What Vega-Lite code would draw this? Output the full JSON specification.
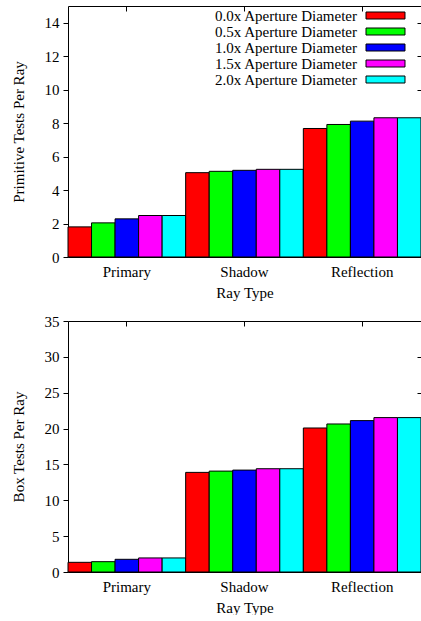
{
  "$schema": "https://vega.github.io/schema/vega-lite/v6.json",
  "padding": {"left": 11, "top": 5, "right": 0, "bottom": 0},
  "spacing": 14,
  "background": "white",
  "config": {
    "font": "Liberation Serif",
    "view": {"stroke": null},
    "axis": {"labelFont": "Liberation Serif", "titleFont": "Liberation Serif", "labelFontSize": 15, "titleFontSize": 15, "titleFontWeight": "normal", "labelColor": "black", "titleColor": "black", "domainColor": "black", "tickColor": "black", "grid": false},
    "legend": {"labelFont": "Liberation Serif", "labelFontSize": 15, "labelColor": "black"}
  },
  "datasets": {
    "prim": [
      {"ray": "Primary", "series": "0.0x Aperture Diameter", "value": 1.8},
      {"ray": "Primary", "series": "0.5x Aperture Diameter", "value": 2.04},
      {"ray": "Primary", "series": "1.0x Aperture Diameter", "value": 2.28},
      {"ray": "Primary", "series": "1.5x Aperture Diameter", "value": 2.48},
      {"ray": "Primary", "series": "2.0x Aperture Diameter", "value": 2.48},
      {"ray": "Shadow", "series": "0.0x Aperture Diameter", "value": 5.04},
      {"ray": "Shadow", "series": "0.5x Aperture Diameter", "value": 5.12},
      {"ray": "Shadow", "series": "1.0x Aperture Diameter", "value": 5.18},
      {"ray": "Shadow", "series": "1.5x Aperture Diameter", "value": 5.24},
      {"ray": "Shadow", "series": "2.0x Aperture Diameter", "value": 5.24},
      {"ray": "Reflection", "series": "0.0x Aperture Diameter", "value": 7.68},
      {"ray": "Reflection", "series": "0.5x Aperture Diameter", "value": 7.92},
      {"ray": "Reflection", "series": "1.0x Aperture Diameter", "value": 8.12},
      {"ray": "Reflection", "series": "1.5x Aperture Diameter", "value": 8.32},
      {"ray": "Reflection", "series": "2.0x Aperture Diameter", "value": 8.32}
    ],
    "box": [
      {"ray": "Primary", "series": "0.0x Aperture Diameter", "value": 1.35},
      {"ray": "Primary", "series": "0.5x Aperture Diameter", "value": 1.44},
      {"ray": "Primary", "series": "1.0x Aperture Diameter", "value": 1.77},
      {"ray": "Primary", "series": "1.5x Aperture Diameter", "value": 1.96},
      {"ray": "Primary", "series": "2.0x Aperture Diameter", "value": 1.96},
      {"ray": "Shadow", "series": "0.0x Aperture Diameter", "value": 13.89},
      {"ray": "Shadow", "series": "0.5x Aperture Diameter", "value": 14.07},
      {"ray": "Shadow", "series": "1.0x Aperture Diameter", "value": 14.21},
      {"ray": "Shadow", "series": "1.5x Aperture Diameter", "value": 14.4},
      {"ray": "Shadow", "series": "2.0x Aperture Diameter", "value": 14.4},
      {"ray": "Reflection", "series": "0.0x Aperture Diameter", "value": 20.08},
      {"ray": "Reflection", "series": "0.5x Aperture Diameter", "value": 20.64},
      {"ray": "Reflection", "series": "1.0x Aperture Diameter", "value": 21.11},
      {"ray": "Reflection", "series": "1.5x Aperture Diameter", "value": 21.53},
      {"ray": "Reflection", "series": "2.0x Aperture Diameter", "value": 21.53}
    ]
  },
  "vconcat": [
    {
      "width": 353,
      "height": 251,
      "data": {"name": "prim"},
      "layer": [
        {
          "mark": {"type": "bar", "stroke": "black", "strokeWidth": 1},
          "encoding": {
            "x": {"field": "ray", "type": "nominal", "sort": ["Primary", "Shadow", "Reflection"], "scale": {"paddingInner": 0, "paddingOuter": 0},
                  "axis": {"orient": "bottom", "title": "Ray Type", "labelAngle": 0, "ticks": false, "labelPadding": 7, "titlePadding": 6, "domain": true}},
            "xOffset": {"field": "series", "type": "nominal", "sort": ["0.0x Aperture Diameter", "0.5x Aperture Diameter", "1.0x Aperture Diameter", "1.5x Aperture Diameter", "2.0x Aperture Diameter"], "scale": {"paddingInner": 0, "paddingOuter": 0}},
            "y": {"field": "value", "type": "quantitative", "scale": {"domain": [0, 15], "nice": false},
                  "axis": {"orient": "left", "title": "Primitive Tests Per Ray", "values": [0, 2, 4, 6, 8, 10, 12, 14], "tickSize": 5, "labelPadding": 4, "titlePadding": 18, "domain": true}},
            "color": {"field": "series", "type": "nominal",
                      "scale": {"domain": ["0.0x Aperture Diameter", "0.5x Aperture Diameter", "1.0x Aperture Diameter", "1.5x Aperture Diameter", "2.0x Aperture Diameter"], "range": ["#ff0000", "#00ff00", "#0000ff", "#ff00ff", "#00ffff"]},
                      "legend": {"title": null, "orient": "none", "legendX": 310, "legendY": 2, "symbolType": "M-5.571,-1H5.571V1H-5.571Z", "symbolSize": 49, "symbolStrokeColor": "black", "symbolStrokeWidth": 1, "symbolOpacity": 1, "labelAlign": "right", "labelOffset": -36, "rowPadding": 0, "padding": 0, "labelLimit": 300}}
          }
        },
        {
          "mark": {"type": "bar", "opacity": 0},
          "encoding": {
            "x": {"field": "ray", "type": "nominal", "sort": ["Primary", "Shadow", "Reflection"], "axis": {"orient": "top", "title": null, "labels": false, "ticks": true, "tickSize": -5, "domain": true}},
            "xOffset": {"field": "series", "type": "nominal", "sort": ["0.0x Aperture Diameter", "0.5x Aperture Diameter", "1.0x Aperture Diameter", "1.5x Aperture Diameter", "2.0x Aperture Diameter"]},
            "y": {"field": "value", "type": "quantitative", "axis": {"orient": "right", "title": null, "labels": false, "domain": false, "tickSize": -4, "values": [0, 2, 4, 6, 8, 10, 12, 14]}}
          }
        }
      ]
    },
    {
      "width": 353,
      "height": 251,
      "data": {"name": "box"},
      "layer": [
        {
          "mark": {"type": "bar", "stroke": "black", "strokeWidth": 1},
          "encoding": {
            "x": {"field": "ray", "type": "nominal", "sort": ["Primary", "Shadow", "Reflection"], "scale": {"paddingInner": 0, "paddingOuter": 0},
                  "axis": {"orient": "bottom", "title": "Ray Type", "labelAngle": 0, "ticks": false, "labelPadding": 7, "titlePadding": 6, "domain": true}},
            "xOffset": {"field": "series", "type": "nominal", "sort": ["0.0x Aperture Diameter", "0.5x Aperture Diameter", "1.0x Aperture Diameter", "1.5x Aperture Diameter", "2.0x Aperture Diameter"], "scale": {"paddingInner": 0, "paddingOuter": 0}},
            "y": {"field": "value", "type": "quantitative", "scale": {"domain": [0, 35], "nice": false},
                  "axis": {"orient": "left", "title": "Box Tests Per Ray", "values": [0, 5, 10, 15, 20, 25, 30, 35], "tickSize": 5, "labelPadding": 4, "titlePadding": 18, "domain": true}},
            "color": {"field": "series", "type": "nominal",
                      "scale": {"domain": ["0.0x Aperture Diameter", "0.5x Aperture Diameter", "1.0x Aperture Diameter", "1.5x Aperture Diameter", "2.0x Aperture Diameter"], "range": ["#ff0000", "#00ff00", "#0000ff", "#ff00ff", "#00ffff"]},
                      "legend": {"title": null, "orient": "none", "legendX": 310, "legendY": 2, "symbolType": "M-5.571,-1H5.571V1H-5.571Z", "symbolSize": 49, "symbolStrokeColor": "black", "symbolStrokeWidth": 1, "symbolOpacity": 1, "labelAlign": "right", "labelOffset": -36, "rowPadding": 0, "padding": 0, "labelLimit": 300}}
          }
        },
        {
          "mark": {"type": "bar", "opacity": 0},
          "encoding": {
            "x": {"field": "ray", "type": "nominal", "sort": ["Primary", "Shadow", "Reflection"], "axis": {"orient": "top", "title": null, "labels": false, "ticks": true, "tickSize": -5, "domain": true}},
            "xOffset": {"field": "series", "type": "nominal", "sort": ["0.0x Aperture Diameter", "0.5x Aperture Diameter", "1.0x Aperture Diameter", "1.5x Aperture Diameter", "2.0x Aperture Diameter"]},
            "y": {"field": "value", "type": "quantitative", "axis": {"orient": "right", "title": null, "labels": false, "domain": false, "tickSize": -4, "values": [0, 5, 10, 15, 20, 25, 30, 35]}}
          }
        }
      ]
    }
  ]
}
